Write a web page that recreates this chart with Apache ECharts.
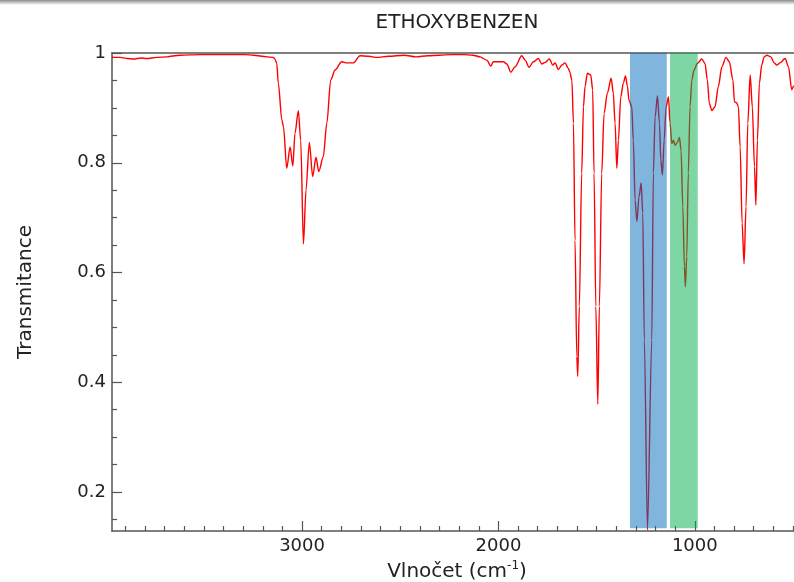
<!DOCTYPE html>
<html><head><meta charset="utf-8">
<script src="https://cdn.jsdelivr.net/npm/echarts@6/dist/echarts.min.js"></script>
<style>html,body{margin:0;padding:0;background:#fff}#c{width:794px;height:582px}</style>
</head><body><div id="c"></div>
<script>
// ---- data ----
const wavenumbers = [
 3968,3961,3927,3890,3859,3820,3791,3740,3689,3650,3621,3519,3450,3350,3290,3248,3180,3146,3137,3129,
 3121,3103,3095,3078,3061,3047,3036,3019,3007,2993,2980,2963,2946,2929,2915,2892,2874,2854,2832,2798,
 2772,2739,2705,2660,2620,2560,2480,2420,2360,2300,2240,2180,2130,2093,2059,2039,2026,1975,1957,1937,
 1915,1881,1864,1844,1822,1797,1779,1762,1741,1723,1711,1695,1677,1661,1644,1637,1626,1618,1610,1601,
 1596,1588,1576,1567,1559,1547,1530,1520,1513,1504,1494,1486,1474,1462,1445,1426,1415,1406,1397,1389,
 1377,1364,1353,1343,1335,1321,1313,1304,1295,1284,1273,1265,1257,1241,1219,1211,1202,1190,1180,1173,
 1165,1156,1146,1134,1126,1117,1109,1100,1089,1078,1070,1061,1053,1048,1041,1033,1024,1015,1004,987,
 964,948,936,926,913,897,880,862,841,824,806,798,786,778,769,759,749,739,730,718,
 707,696,689,681,671,659,647,633,613,596,582,566,540,523,506,498,480,454
];
const transmittance = [
 0.993,0.992,0.992,0.990,0.989,0.991,0.990,0.992,0.993,0.995,0.996,0.997,0.997,0.997,0.997,0.996,0.993,0.992,0.988,0.981,
 0.945,0.878,0.866,0.790,0.829,0.794,0.854,0.895,0.841,0.652,0.750,0.837,0.775,0.810,0.784,0.811,0.872,0.951,0.969,0.984,
 0.982,0.982,0.995,0.994,0.992,0.994,0.996,0.993,0.995,0.996,0.997,0.997,0.996,0.993,0.987,0.976,0.984,0.984,0.980,0.965,
 0.975,0.995,0.987,0.974,0.984,0.990,0.980,0.983,0.989,0.978,0.982,0.970,0.978,0.982,0.972,0.966,0.951,0.872,0.659,0.447,
 0.411,0.538,0.781,0.902,0.939,0.963,0.960,0.933,0.781,0.538,0.360,0.538,0.781,0.890,0.927,0.954,0.927,0.872,0.790,0.841,
 0.920,0.945,0.958,0.939,0.914,0.902,0.841,0.732,0.693,0.738,0.763,0.708,0.477,0.131,0.477,0.781,0.884,0.922,0.872,0.805,
 0.778,0.841,0.902,0.920,0.872,0.835,0.841,0.832,0.837,0.846,0.823,0.720,0.611,0.574,0.629,0.781,0.902,0.951,0.969,0.981,
 0.989,0.981,0.951,0.908,0.895,0.902,0.939,0.975,0.992,0.984,0.951,0.911,0.909,0.902,0.829,0.690,0.616,0.720,0.872,0.960,
 0.902,0.793,0.723,0.841,0.945,0.978,0.993,0.996,0.993,0.982,0.978,0.982,0.990,0.975,0.933,0.939,0.945,0.955
];
const blueBand = [1330, 1143];
const greenBand = [1126, 985];
const bandBottom = 0.134;
const titleText = 'ETHOXYBENZEN';
const xMajorTicks = [1000, 2000, 3000];
const xMinorTicks = [500,600,700,800,900,1100,1200,1300,1400,1500,1600,1700,1800,1900,2100,2200,2300,2400,2500,2600,2700,2800,2900,3100,3200,3300,3400,3500,3600,3700,3800,3900];
const yMajorTicks = [0.2, 0.4, 0.6, 0.8, 1.0];
const yMinorTicks = [0.15,0.25,0.3,0.35,0.45,0.5,0.55,0.65,0.7,0.75,0.85,0.9,0.95];

// ---- chart ----
const X_MIN = 454, X_MAX = 3968, Y_MIN = 0.129, Y_MAX = 1;
const AX = '#555', TXT = '#222', FONT = 'DejaVu Sans';
const points = wavenumbers.map((w, i) => [w, transmittance[i]]);

function xAx(extra) {
  return Object.assign({
    type: 'value', inverse: true, min: X_MIN, max: X_MAX, position: 'bottom',
    axisLine: { show: false }, axisTick: { show: false }, axisLabel: { show: false },
    splitLine: { show: false }
  }, extra);
}
function yAx(extra) {
  return Object.assign({
    type: 'value', min: Y_MIN, max: Y_MAX, position: 'left',
    axisLine: { show: false }, axisTick: { show: false }, axisLabel: { show: false },
    splitLine: { show: false }
  }, extra);
}

const chart = echarts.init(document.getElementById('c'), null, { renderer: 'canvas' });
chart.setOption({
  animation: false,
  backgroundColor: '#fff',
  graphic: [{
    type: 'rect', left: 0, top: 0, shape: { width: 794, height: 5 }, silent: true,
    style: { fill: new echarts.graphic.LinearGradient(0, 0, 0, 1, [
      { offset: 0, color: '#8c8c8c' }, { offset: 1, color: '#ffffff' }]) }
  }],
  title: {
    text: titleText, left: 452, top: 8, textAlign: 'center',
    textStyle: { fontFamily: FONT, fontSize: 20, fontWeight: 'normal', color: TXT }
  },
  grid: { left: 112, top: 53, width: 690, height: 478, containLabel: false, outerBoundsMode: 'none' },
  xAxis: [
    xAx({
      axisLine: { show: true, lineStyle: { color: AX, width: 1.5 } },
      axisTick: { show: true, inside: true, length: 10, customValues: xMajorTicks, lineStyle: { color: AX, width: 1.2 } },
      axisLabel: { show: true, customValues: xMajorTicks, fontFamily: FONT, fontSize: 18, color: TXT, margin: 6,
        formatter: v => String(Math.round(v)) },
      name: '{a|Vlnočet (cm}{s|-1}{a|)}', nameLocation: 'middle', nameGap: 26,
      nameTextStyle: {
        rich: {
          a: { fontFamily: FONT, fontSize: 20, color: TXT, lineHeight: 24 },
          s: { fontFamily: FONT, fontSize: 12, color: TXT, lineHeight: 24, verticalAlign: 'top' }
        }
      }
    }),
    xAx({
      axisTick: { show: true, inside: true, length: 5, customValues: xMinorTicks, lineStyle: { color: AX, width: 1.2 } }
    }),
    xAx({
      position: 'top',
      axisLine: { show: true, lineStyle: { color: AX, width: 1.5 } }
    })
  ],
  yAxis: [
    yAx({
      axisLine: { show: true, lineStyle: { color: AX, width: 1.5 } },
      axisTick: { show: true, inside: true, length: 10, customValues: yMajorTicks, lineStyle: { color: AX, width: 1.2 } },
      axisLabel: { show: true, customValues: yMajorTicks, fontFamily: FONT, fontSize: 18, color: TXT, margin: 6,
        formatter: v => String(+(+v).toFixed(2)) },
      name: 'Transmitance', nameLocation: 'middle', nameGap: 76,
      nameTextStyle: { fontFamily: FONT, fontSize: 20, color: TXT }
    }),
    yAx({
      axisTick: { show: true, inside: true, length: 5, customValues: yMinorTicks, lineStyle: { color: AX, width: 1.2 } }
    })
  ],
  series: [
    {
      type: 'line', xAxisIndex: 0, yAxisIndex: 0, data: points, showSymbol: false,
      smooth: 0.3, smoothMonotone: 'x', clip: true,
      lineStyle: { color: '#ff0000', width: 1.4 }, z: 2
    },
    {
      type: 'line', xAxisIndex: 0, yAxisIndex: 0, data: [], z: 5,
      markArea: {
        silent: true, z: 10,
        data: [
          [{ xAxis: blueBand[0], yAxis: bandBottom, itemStyle: { color: 'rgba(1,109,189,0.5)' } }, { xAxis: blueBand[1], yAxis: Y_MAX }],
          [{ xAxis: greenBand[0], yAxis: bandBottom, itemStyle: { color: 'rgba(0,173,75,0.5)' } }, { xAxis: greenBand[1], yAxis: Y_MAX }]
        ]
      }
    }
  ]
});
</script>
</body></html>
